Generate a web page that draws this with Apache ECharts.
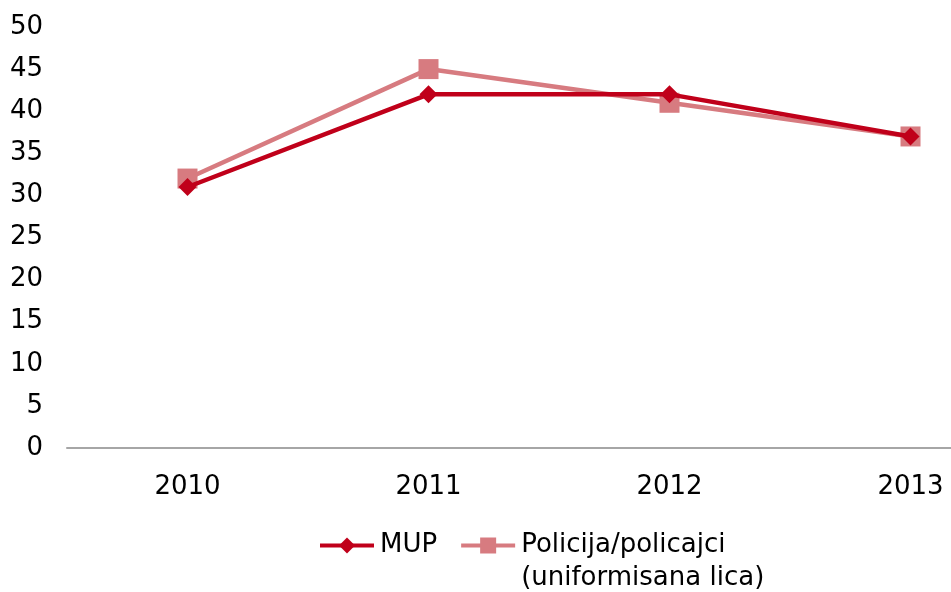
<!DOCTYPE html>
<html>
<head>
<meta charset="utf-8">
<script src="https://cdn.jsdelivr.net/npm/echarts@6/dist/echarts.min.js"></script>
<style>
  html, body { margin: 0; padding: 0; background: #fff; }
  #chart { width: 951px; height: 592px; }
</style>
</head>
<body>
<div id="chart"></div>
<script>
// chart data
const years = [2010, 2011, 2012, 2013];
const mup = [31, 42, 42, 37];
const policija = [32, 45, 41, 37];
const seriesNames = ["MUP", "Policija/policajci (uniformisana lica)"];

const font = "DejaVu Sans, Verdana, sans-serif";
const chart = echarts.init(document.getElementById("chart"));

// the picture is cut on the right, so the last category band is only partly shown
const xMin = 2009.5;
const xMax = 2013.168;

const option = {
  animation: false,
  backgroundColor: "#ffffff",
  grid: {
    top: 27,
    left: 67,
    right: 0,
    bottom: 144
  },
  legend: {
    left: 318,
    top: 496,
    padding: 0,
    itemGap: 22,
    itemWidth: 54,
    itemHeight: 20,
    data: seriesNames,
    lineStyle: { width: 4 },
    formatter: name => name == "MUP" ? " \nMUP\n " : " \n" + name.replace(" (", "\n("),
    textStyle: {
      fontFamily: font,
      fontSize: 26,
      color: "#000",
      lineHeight: 33,
      padding: [0, 0, 0, 1]
    }
  },
  xAxis: {
    type: "value",
    min: xMin,
    max: xMax,
    axisLine: {
      show: true,
      lineStyle: { color: "#a6a6a6", width: 2 }
    },
    axisTick: { show: false },
    axisLabel: {
      customValues: years,
      formatter: v => String(v),
      margin: 26,
      fontFamily: font,
      fontSize: 26,
      color: "#000"
    },
    splitLine: { show: false }
  },
  yAxis: {
    type: "value",
    min: 0,
    max: 50,
    interval: 5,
    axisLine: { show: false },
    axisTick: { show: false },
    axisLabel: {
      margin: 24,
      fontFamily: font,
      fontSize: 26,
      color: "#000"
    },
    splitLine: { show: false }
  },
  series: [
    {
      name: seriesNames[0],
      type: "line",
      data: years.map((y, i) => [y, mup[i]]),
      symbol: "diamond",
      symbolSize: 18,
      z: 3,
      itemStyle: { color: "#c0001a" },
      lineStyle: { color: "#c0001a", width: 4.5 }
    },
    {
      name: seriesNames[1],
      type: "line",
      data: years.map((y, i) => [y, policija[i]]),
      symbol: "rect",
      symbolSize: 20,
      z: 2,
      itemStyle: { color: "#d77b80" },
      lineStyle: { color: "#d77b80", width: 4.5 }
    }
  ]
};

chart.setOption(option);
</script>
</body>
</html>
